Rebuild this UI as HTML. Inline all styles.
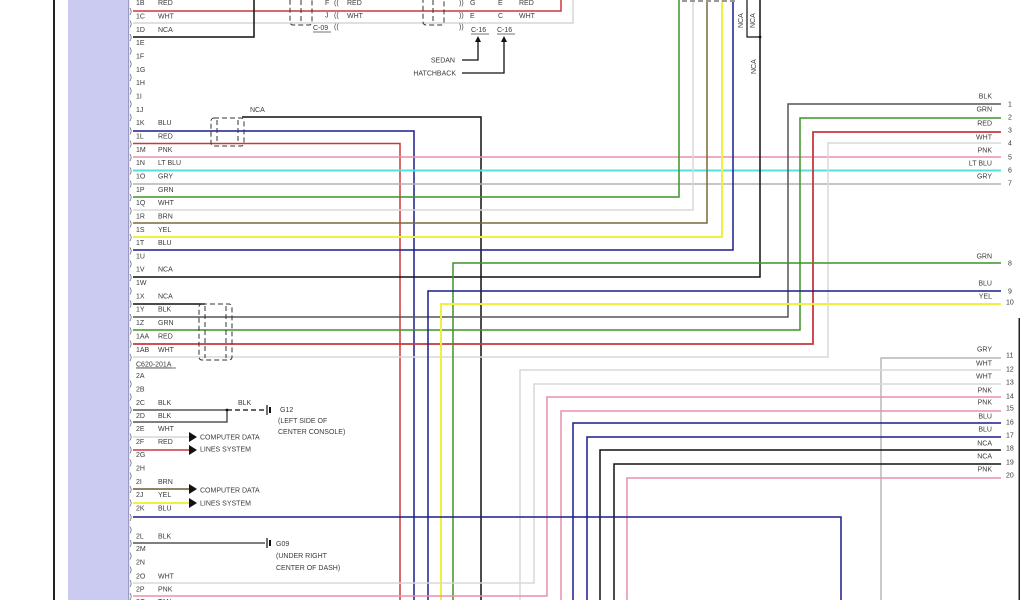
<!DOCTYPE html>
<html><head><meta charset="utf-8">
<style>
html,body{margin:0;padding:0;background:#fff;width:1024px;height:600px;overflow:hidden}
svg{display:block}
text{font-family:"Liberation Sans",sans-serif;font-size:7px;fill:#3a3a3a}
.w{fill:none;stroke-width:1.5}
</style></head><body>
<svg width="1024" height="600" viewBox="0 0 1024 600" xmlns="http://www.w3.org/2000/svg">
<rect x="0" y="0" width="1024" height="600" fill="#fff"/>
<rect x="53" y="0" width="2" height="600" fill="#222"/>
<rect x="68" y="0" width="60" height="600" fill="#cbcbf2"/>
<rect x="128" y="0" width="1.2" height="600" fill="#9a9ac8"/>
<rect x="1018.5" y="318" width="1.5" height="282" fill="#222"/>

<!-- wires -->
<g class="w">
<path d="M133,11 H561 V0" stroke="#c8383c"/>
<path d="M133,23 H573 V0" stroke="#d6d6d6"/>
<path d="M133,37 H254 V0" stroke="#111"/>
<path d="M242,117 H481 V600" stroke="#111"/>
<path d="M133,131 H414 V600" stroke="#1c1c8c"/>
<path d="M133,143.5 H400 V600" stroke="#c8383c"/>
<path d="M133,157 H1001" stroke="#e890a8"/>
<path d="M133,170.5 H1001" stroke="#50e0e0" stroke-width="2"/>
<path d="M133,184 H1001" stroke="#b4b4b4"/>
<path d="M133,197 H679 V0" stroke="#3c9428"/>
<path d="M133,210 H693 V0" stroke="#d8d8d8"/>
<path d="M133,223 H707 V0" stroke="#7a6a3a"/>
<path d="M133,237 H722 V0" stroke="#f0f040" stroke-width="2"/>
<path d="M133,250 H733 V0" stroke="#1c1c8c"/>
<path d="M133,277 H760 V0" stroke="#111"/>
<path d="M747,0 V37 H760" stroke="#111" stroke-width="1.2"/>
<path d="M133,304 H205" stroke="#111"/>
<path d="M133,317 H788 V104 H1001" stroke="#555"/>
<path d="M133,330 H800 V118 H1001" stroke="#3c9428"/>
<path d="M133,344 H813 V132 H1001" stroke="#c8383c" stroke-width="1.8"/>
<path d="M133,357 H828 V143 H1001" stroke="#d8d8d8"/>
<path d="M453,600 V263 H1001" stroke="#3c9428"/>
<path d="M428,600 V291 H1001" stroke="#1c1c8c"/>
<path d="M441,600 V304 H1001" stroke="#f0f040" stroke-width="2"/>
<path d="M881,600 V358 H1001" stroke="#a8a8a8" stroke-width="1.2"/>
<path d="M520,600 V370 H1001" stroke="#d8d8d8"/>
<path d="M133,583 H534 V384 H1001" stroke="#d8d8d8"/>
<path d="M133,596 H547 V397 H1001" stroke="#e890a8"/>
<path d="M561,600 V411 H1001" stroke="#e890a8"/>
<path d="M573,600 V423 H1001" stroke="#1c1c8c"/>
<path d="M587,600 V437 H1001" stroke="#1c1c8c"/>
<path d="M600,600 V450 H1001" stroke="#111"/>
<path d="M614,600 V464 H1001" stroke="#111"/>
<path d="M627,600 V478 H1001" stroke="#e890a8"/>
<path d="M133,517 H841 V600" stroke="#1c1c8c"/>
<path d="M133,410 H227" stroke="#555"/>
<path d="M133,422 H227 V410" stroke="#555"/>
<path d="M227,410 H265" stroke="#333" stroke-dasharray="5,3"/>
<path d="M133,437 H190" stroke="#d6d6d6"/>
<path d="M133,450 H190" stroke="#c8383c"/>
<path d="M133,489 H190" stroke="#6a5a30"/>
<path d="M133,503 H190" stroke="#f0f040" stroke-width="2"/>
<path d="M133,543 H265" stroke="#555"/>
<path d="M462,60 H478 V41" stroke="#111" stroke-width="1.3"/>
<path d="M462,73 H504 V41" stroke="#111" stroke-width="1.3"/>
</g>
<circle cx="227" cy="410" r="1.4" fill="#111"/>
<circle cx="760" cy="37" r="1.4" fill="#111"/>
<polygon points="475,42 481,42 478,36" fill="#111"/>
<polygon points="501,42 507,42 504,36" fill="#111"/>
<!-- arrows -->
<polygon points="189,432 197,437 189,442" fill="#111"/>
<polygon points="189,445 197,450 189,455" fill="#111"/>
<polygon points="189,484 197,489 189,494" fill="#111"/>
<polygon points="189,498 197,503 189,508" fill="#111"/>
<!-- grounds -->
<g stroke="#111" fill="none">
<path d="M267,405 V415" stroke-width="1.2"/><path d="M270,407 V413" stroke-width="2"/>
<path d="M267,538 V548" stroke-width="1.2"/><path d="M270,540 V546" stroke-width="2"/>
</g>
<!-- shields -->
<g fill="none" stroke="#333" stroke-width="1" stroke-dasharray="5,3">
<rect x="211" y="118" width="33" height="28" rx="3"/>
<path d="M217,120 V144 M238,120 V144"/>
<rect x="199" y="304" width="33" height="56" rx="3"/>
<path d="M205,306 V358 M226,306 V358"/>
<rect x="290" y="-6" width="22" height="31" rx="3"/>
<path d="M301,0 V23"/>
<rect x="423" y="-6" width="21" height="31" rx="3"/>
<path d="M433,0 V23"/>
<path d="M682,1 H736" stroke="#999" stroke-width="2"/>
</g>

<!-- left pin labels -->
<g>
<text x="136" y="5">1B</text><text x="158" y="5">RED</text>
<text x="136" y="18.5">1C</text><text x="158" y="18.5">WHT</text>
<text x="136" y="32">1D</text><text x="158" y="32">NCA</text>
<text x="136" y="45">1E</text>
<text x="136" y="58.5">1F</text>
<text x="136" y="72">1G</text>
<text x="136" y="85">1H</text>
<text x="136" y="98.5">1I</text>
<text x="136" y="112">1J</text>
<text x="136" y="125">1K</text><text x="158" y="125">BLU</text>
<text x="136" y="138.5">1L</text><text x="158" y="138.5">RED</text>
<text x="136" y="152">1M</text><text x="158" y="152">PNK</text>
<text x="136" y="165">1N</text><text x="158" y="165">LT BLU</text>
<text x="136" y="178.5">1O</text><text x="158" y="178.5">GRY</text>
<text x="136" y="192">1P</text><text x="158" y="192">GRN</text>
<text x="136" y="205">1Q</text><text x="158" y="205">WHT</text>
<text x="136" y="218.5">1R</text><text x="158" y="218.5">BRN</text>
<text x="136" y="232">1S</text><text x="158" y="232">YEL</text>
<text x="136" y="245">1T</text><text x="158" y="245">BLU</text>
<text x="136" y="258.5">1U</text>
<text x="136" y="271.5">1V</text><text x="158" y="271.5">NCA</text>
<text x="136" y="285">1W</text>
<text x="136" y="298.5">1X</text><text x="158" y="298.5">NCA</text>
<text x="136" y="311.5">1Y</text><text x="158" y="311.5">BLK</text>
<text x="136" y="325">1Z</text><text x="158" y="325">GRN</text>
<text x="136" y="338.5">1AA</text><text x="158" y="338.5">RED</text>
<text x="136" y="352">1AB</text><text x="158" y="352">WHT</text>
<text x="136" y="366.5" text-decoration="underline">C620-201A</text>
<path d="M136,368 H176" stroke="#444" stroke-width="0.7"/>
<text x="136" y="378">2A</text>
<text x="136" y="391.5">2B</text>
<text x="136" y="405">2C</text><text x="158" y="405">BLK</text>
<text x="136" y="418">2D</text><text x="158" y="418">BLK</text>
<text x="136" y="431">2E</text><text x="158" y="431">WHT</text>
<text x="136" y="444">2F</text><text x="158" y="444">RED</text>
<text x="136" y="457">2G</text>
<text x="136" y="470.5">2H</text>
<text x="136" y="484">2I</text><text x="158" y="484">BRN</text>
<text x="136" y="497">2J</text><text x="158" y="497">YEL</text>
<text x="136" y="510.5">2K</text><text x="158" y="510.5">BLU</text>
<text x="136" y="538.5">2L</text><text x="158" y="538.5">BLK</text>
<text x="136" y="551">2M</text>
<text x="136" y="564.5">2N</text>
<text x="136" y="578.5">2O</text><text x="158" y="578.5">WHT</text>
<text x="136" y="591.5">2P</text><text x="158" y="591.5">PNK</text>
<text x="136" y="604">2Q</text><text x="158" y="604">TAN</text>
</g>
<!-- brackets -->
<g font-size="8">
<text x="129.5" y="13.5">)</text><text x="129.5" y="26">)</text><text x="129.5" y="39.5">)</text><text x="129.5" y="53">)</text>
<text x="129.5" y="66">)</text><text x="129.5" y="79.5">)</text><text x="129.5" y="93">)</text><text x="129.5" y="106">)</text>
<text x="129.5" y="119.5">)</text><text x="129.5" y="133">)</text><text x="129.5" y="146">)</text><text x="129.5" y="159.5">)</text>
<text x="129.5" y="173">)</text><text x="129.5" y="186">)</text><text x="129.5" y="199.5">)</text><text x="129.5" y="213">)</text>
<text x="129.5" y="226">)</text><text x="129.5" y="239.5">)</text><text x="129.5" y="253">)</text><text x="129.5" y="266">)</text>
<text x="129.5" y="279.5">)</text><text x="129.5" y="293">)</text><text x="129.5" y="306">)</text><text x="129.5" y="319.5">)</text>
<text x="129.5" y="333">)</text><text x="129.5" y="346">)</text><text x="129.5" y="359.5">)</text>
<text x="129.5" y="386">)</text><text x="129.5" y="399">)</text><text x="129.5" y="412">)</text><text x="129.5" y="425">)</text>
<text x="129.5" y="439">)</text><text x="129.5" y="452">)</text><text x="129.5" y="465">)</text><text x="129.5" y="478">)</text>
<text x="129.5" y="491.5">)</text><text x="129.5" y="505">)</text><text x="129.5" y="519.5">)</text><text x="129.5" y="532">)</text>
<text x="129.5" y="545.5">)</text><text x="129.5" y="558">)</text><text x="129.5" y="572">)</text><text x="129.5" y="585.5">)</text>
<text x="129.5" y="598.5">)</text>
</g>

<!-- misc labels -->
<text x="250" y="112">NCA</text>
<text x="238" y="405">BLK</text>
<text x="280" y="412">G12</text>
<text x="278" y="423">(LEFT SIDE OF</text>
<text x="278" y="434">CENTER CONSOLE)</text>
<text x="200" y="439.5">COMPUTER DATA</text>
<text x="200" y="451.5">LINES SYSTEM</text>
<text x="200" y="492.5">COMPUTER DATA</text>
<text x="200" y="505.5">LINES SYSTEM</text>
<text x="276" y="546">G09</text>
<text x="276" y="558">(UNDER RIGHT</text>
<text x="276" y="570">CENTER OF DASH)</text>

<!-- top connectors -->
<text x="325" y="5">F</text><text x="325" y="17.5">J</text>
<text x="334" y="5">((</text><text x="334" y="17.5">((</text><text x="334" y="29">((</text>
<text x="347" y="5">RED</text><text x="347" y="18">WHT</text>
<text x="313" y="30">C-09</text><path d="M313,32 H331" stroke="#444" stroke-width="0.7"/>
<text x="459" y="5">))</text><text x="459" y="17.5">))</text><text x="459" y="29">))</text>
<text x="470" y="5">G</text><text x="470" y="18">E</text>
<text x="498" y="5">E</text><text x="498" y="18">C</text>
<text x="519" y="5">RED</text><text x="519" y="18">WHT</text>
<text x="471" y="32">C-16</text><path d="M471,34 H489" stroke="#444" stroke-width="0.7"/>
<text x="497" y="32">C-16</text><path d="M497,34 H515" stroke="#444" stroke-width="0.7"/>
<text x="455" y="62.5" text-anchor="end">SEDAN</text>
<text x="456" y="75.5" text-anchor="end">HATCHBACK</text>
<text transform="translate(743,28) rotate(-90)">NCA</text>
<text transform="translate(755,28) rotate(-90)">NCA</text>
<text transform="translate(756,74) rotate(-90)">NCA</text>

<!-- right labels -->
<g text-anchor="end">
<text x="992" y="98.5">BLK</text><text x="992" y="111.5">GRN</text><text x="992" y="125.5">RED</text>
<text x="992" y="139.5">WHT</text><text x="992" y="152.5">PNK</text><text x="992" y="165.5">LT BLU</text>
<text x="992" y="178.5">GRY</text><text x="992" y="258.5">GRN</text><text x="992" y="285.5">BLU</text>
<text x="992" y="298.5">YEL</text><text x="992" y="351.5">GRY</text><text x="992" y="365.5">WHT</text>
<text x="992" y="378.5">WHT</text><text x="992" y="392.5">PNK</text><text x="992" y="404.5">PNK</text>
<text x="992" y="418.5">BLU</text><text x="992" y="431.5">BLU</text><text x="992" y="445.5">NCA</text>
<text x="992" y="458.5">NCA</text><text x="992" y="471.5">PNK</text>
</g>
<g>
<text x="1008" y="106.5">1</text><text x="1008" y="119.5">2</text><text x="1008" y="132.5">3</text>
<text x="1008" y="145.5">4</text><text x="1008" y="159.5">5</text><text x="1008" y="172.5">6</text>
<text x="1008" y="185.5">7</text><text x="1008" y="265.5">8</text><text x="1008" y="293.5">9</text>
<text x="1006" y="304.5">10</text><text x="1006" y="357.5">11</text><text x="1006" y="371.5">12</text>
<text x="1006" y="384.5">13</text><text x="1006" y="398.5">14</text><text x="1006" y="410.5">15</text>
<text x="1006" y="424.5">16</text><text x="1006" y="437.5">17</text><text x="1006" y="450.5">18</text>
<text x="1006" y="464.5">19</text><text x="1006" y="477.5">20</text>
</g>
</svg>
</body></html>
